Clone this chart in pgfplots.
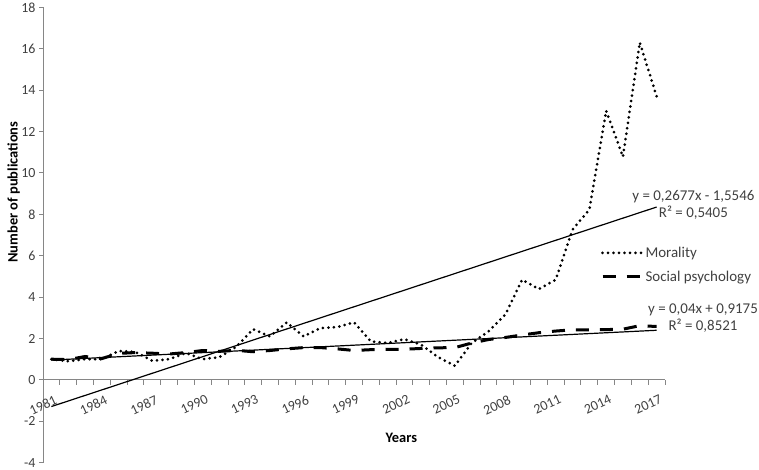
\documentclass[border=0pt]{standalone}
\usepackage{fontspec}
\setmainfont{Carlito}
\usepackage{pgfplots}
\pgfplotsset{compat=1.18}
\definecolor{axisgray}{HTML}{868686}
\definecolor{txt}{HTML}{404040}
\begin{document}
\begin{tikzpicture}
\path[use as bounding box] (0,0) rectangle (759bp,470bp);
\begin{axis}[
  at={(43bp,7.3bp)}, anchor=south west,
  scale only axis, width=622bp, height=455.4bp,
  xmin=1980.5, xmax=2017.5, ymin=-4, ymax=18,
  clip=false,
  axis x line*=middle, axis y line*=left,
  axis line style={axisgray, line width=0.8bp},
  xtick={1981,1984,...,2017},
  minor xtick={1980.5,1981.5,...,2017.5},
  major x tick style={draw=none},
  minor x tick style={axisgray, line width=0.8bp},
  ytick={-4,-2,...,18},
  ytick style={axisgray, line width=0.8bp},
  tick align=outside,
  major tick length=4bp, minor tick length=5bp,
  /pgf/number format/assume math mode=true,
  /pgf/number format/1000 sep={},
  xticklabel style={xshift=3bp, yshift=-9bp, rotate=25, anchor=north east, inner sep=1bp, font=\fontsize{14}{16}\selectfont, text=txt},
  yticklabel style={font=\fontsize{14}{16}\selectfont, text=txt},
  xlabel={Years},
  xlabel style={at={(axis description cs:0.576,0.054)}, anchor=center, font=\bfseries\fontsize{14.5}{17}\selectfont},
  ylabel={Number of publications},
  ylabel style={at={(axis description cs:-0.047,0.594)}, anchor=center, font=\bfseries\fontsize{14.5}{17}\selectfont},
  legend style={at={(axis description cs:0.892,0.482)}, anchor=north west, draw=none, fill=none,
    font=\fontsize{15}{17}\selectfont, text=txt, row sep=9bp, nodes={inner sep=1.5bp}},
  legend cell align=left,
  legend image code/.code={\draw[#1] (0bp,0bp) -- (40bp,0bp);},
]
\addplot[black, line width=3bp, line cap=round, dash pattern=on 0bp off 5.5bp] coordinates {
(1981,1.0) (1982,0.9) (1983,1.0) (1984,1.0) (1985,1.4) (1986,1.35) (1987,0.92) (1988,1.0)
(1989,1.3) (1990,1.0) (1991,1.1) (1992,1.6) (1993,2.45) (1994,2.1) (1995,2.78) (1996,2.1)
(1997,2.5) (1998,2.55) (1999,2.78) (2000,1.86) (2001,1.78) (2002,1.97) (2003,1.7) (2004,1.1)
(2005,0.68) (2006,1.78) (2007,2.34) (2008,3.15) (2009,4.84) (2010,4.39) (2011,4.84) (2012,7.26)
(2013,8.23) (2014,13.0) (2015,10.78) (2016,16.3) (2017,13.7)
};
\addlegendentry{Morality}
\addplot[black, line width=3bp, dash pattern=on 13bp off 11bp] coordinates {
(1981,1.0) (1982,0.98) (1983,1.13) (1984,1.03) (1985,1.28) (1986,1.32) (1987,1.29) (1988,1.25)
(1989,1.32) (1990,1.42) (1991,1.38) (1992,1.43) (1993,1.36) (1994,1.42) (1995,1.5) (1996,1.56)
(1997,1.56) (1998,1.5) (1999,1.42) (2000,1.46) (2001,1.48) (2002,1.48) (2003,1.52) (2004,1.55)
(2005,1.56) (2006,1.78) (2007,1.95) (2008,2.05) (2009,2.17) (2010,2.28) (2011,2.36) (2012,2.42)
(2013,2.42) (2014,2.43) (2015,2.45) (2016,2.62) (2017,2.58)
};
\addlegendentry{Social psychology}
\addplot[black, line width=1.2bp, forget plot] coordinates {(1981,-1.2869) (2017,8.3503)};
\addplot[black, line width=1.2bp, forget plot] coordinates {(1981,0.9575) (2017,2.3975)};
\node[align=center, font=\fontsize{15}{17}\selectfont, text=txt] at (axis cs:2019.19,8.47) {y = 0,2677x - 1,5546\\R² = 0,5405};
\node[align=center, font=\fontsize{15}{17}\selectfont, text=txt] at (axis cs:2019.76,2.98) {y = 0,04x + 0,9175\\R² = 0,8521};
\end{axis}
\end{tikzpicture}
\end{document}
